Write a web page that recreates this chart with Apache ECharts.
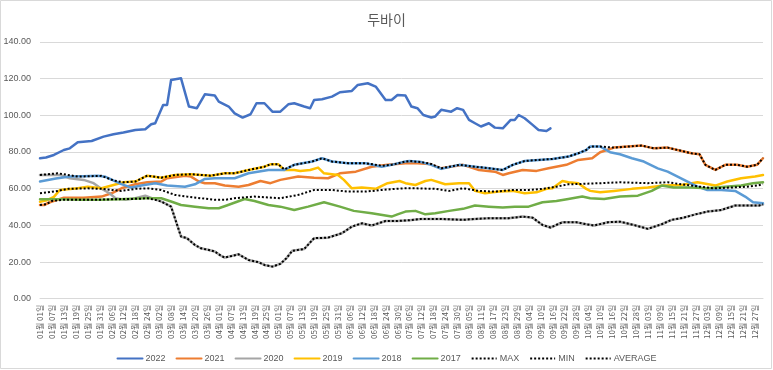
<!DOCTYPE html>
<html>
<head>
<meta charset="utf-8">
<script src="https://cdn.jsdelivr.net/npm/echarts@6/dist/echarts.min.js"></script>
<style>
html,body{margin:0;padding:0;background:#fff;}
#c{width:773px;height:370px;}
</style>
</head>
<body>
<div id="c"></div>
<script>
// Categories: every calendar day (non-leap year), labelled "MM월 DD일"
const monthLengths = [31,28,31,30,31,30,31,31,30,31,30,31];
const categories = [];
monthLengths.forEach((n, m) => {
  for (let d = 1; d <= n; d++) {
    categories.push(String(m + 1).padStart(2, '0') + '월 ' + String(d).padStart(2, '0') + '일');
  }
});
const yTicks = [0, 20, 40, 60, 80, 100, 120, 140];

// Values: day index (0 = 01월 01일) and price
const days2022 = [0,3,7,12,15,19,26,32,37,42,48,53,56,58,62,64,66,71,75,79,83,88,90,95,98,102,106,109,113,117,121,125,128,133,136,138,142,147,151,157,160,165,169,174,177,180,184,187,190,193,197,199,202,207,210,213,216,219,222,226,229,233,237,239,241,244,248,251,255,257];
const val2022 = [76.6,77,78.4,81.1,82,85.3,86,88.4,89.7,90.6,92,92.4,95.1,95.7,105.7,105.7,119.3,120.2,104.8,103.9,111.5,110.8,107.5,104.8,101.1,98.8,100.6,106.6,106.6,102,102,106,106.6,104.8,103.9,108.4,108.8,110.2,112.6,113.3,116.6,117.5,115.7,108.4,108.4,111.1,110.8,104.8,103.9,100.2,98.8,99.4,103,102,103.9,103,97.5,95.7,93.9,95.7,93.3,92.9,97.5,97.5,100.2,98.4,94.8,92,91.5,92.9];

const days2021 = [0,2,5,12,22,31,36,41,48,54,61,64,73,76,80,83,88,93,100,105,111,116,121,130,138,145,151,159,167,175,184,190,196,202,213,221,229,233,236,243,250,256,265,271,275,278,282,289,296,303,309,316,323,328,332,335,340,345,351,356,361,364];
const val2021 = [51.1,51.1,52.6,55.1,55.1,55.7,57.5,60.2,62.4,63.5,63.9,65.7,67,66.6,63.9,63,63,61.7,61.1,62,64.2,63,64.8,66.6,66,65.7,68.4,69.3,72,73,73.9,73.9,73.5,71.1,73,70.2,69.3,67.5,68.4,70.2,69.7,71.1,73,75.7,76.2,76.6,79.9,82.4,83,83.5,82,82.4,80.6,79.3,78.8,73,70.2,73,73,72,73,76.6];

const days2020 = [0,10,15,22,27,30,35,38,43,48,53,56,60,63,66,71,74,78,81,85,88,91,93,100,105,110,113,117,121,124,127,133,138,145,152,157,162,167,174,180,186,192,202,213,219,226,236,243,248,253,257,263,270,275,279,286,292,299,306,313,318,324,330,336,343,350,356,362,364];
const val2020 = [67.5,67.5,65.7,64.8,63,60.6,57.5,54.8,53.9,54.8,56.2,55,53.5,52,50.2,33.9,33,29.3,27.5,26.6,25.7,23.5,22.4,24.2,21.1,19.9,18.4,17.5,19,22,26.1,27.1,33,33.3,35.7,39.3,41.1,39.9,42.4,42.4,42.8,43.5,43.5,43,43.5,43.9,43.9,44.8,44.2,40.2,38.8,41.7,41.7,40.6,39.9,41.7,42,40.2,38.1,40.6,43,44.2,46,47.5,48.4,50.8,50.8,50.8,51.5];

const days2019 = [0,3,7,10,19,24,31,37,42,48,54,61,68,76,86,93,98,105,113,116,120,123,128,131,136,140,143,150,153,157,162,169,175,181,184,189,194,197,204,211,216,219,224,231,238,244,250,255,258,263,266,271,275,277,282,289,298,306,314,323,331,340,346,353,360,364];
const val2019 = [52.9,53.5,55.5,59.3,60.2,61.1,60.2,62,63.5,63.9,67.1,66,67.5,67.9,67.1,68.4,68.4,70.2,72,73.3,73.3,70.2,70.2,69.7,70.2,71.5,68.4,67.5,64.8,60.2,60.6,59.9,63,64.2,63,62,64.2,64.8,62.4,63,63,58.8,57.5,58.4,58.8,57.5,58,59.9,60.2,64.2,63.5,63,59.9,58.8,58,58.8,59.9,60.6,61.7,62,63.5,61.7,63.9,65.7,66.6,67.5];

const days2018 = [0,8,15,22,29,33,41,46,51,58,64,73,78,83,88,98,105,115,123,128,137,142,147,155,164,172,177,184,186,192,197,202,211,219,226,233,238,244,251,258,266,271,275,277,282,287,292,298,304,311,316,321,326,331,336,343,350,355,359,364];
const val2018 = [63.9,65.5,66.6,66.8,67.1,66.5,62.5,60.6,61.7,63,61.7,61.1,62.4,65.3,65.7,65.7,68.4,70.2,70.2,73,74.8,76.6,74.8,73.9,73.9,72,73,74.8,75.1,74.5,73,70.8,73,72,71.1,70.2,73,75.1,75.7,76.2,77.5,79.3,81.1,83,83,79.9,78.8,76.6,74.8,71.1,69.3,66.6,63.9,61.1,59.3,59.3,58.8,55.7,52.6,52];

const days2017 = [0,10,20,30,40,53,61,66,71,78,85,90,94,103,108,115,121,128,135,143,151,158,167,177,180,184,189,194,199,206,213,219,226,233,239,246,253,260,266,273,277,284,292,301,308,313,319,328,336,345,353,359,364];
const val2017 = [54.3,54.3,54,54,54.3,54.8,54.8,53,51.1,50.2,49.3,49.3,50.8,54.4,53.3,51.1,50.2,48.4,50.2,52.6,50.2,47.9,46.6,44.8,46,47.5,47.9,46,46.6,47.9,49,50.8,50.2,49.7,50.2,50.2,52.6,53.3,54.4,55.7,54.8,54.4,55.7,56.2,58.8,61.7,60.6,60.6,60.2,61.1,61.7,63,63.5];

const daysMax = [0,9,19,31,37,42,48,54,61,68,76,86,93,98,105,113,116,120,123,128,137,142,147,155,164,172,177,184,186,192,197,202,211,219,226,233,238,244,251,258,266,271,275,277,282,289,296,303,309,316,323,328,332,335,340,345,351,356,361,364];
const valMax = [67.5,68.4,66.6,67,64.5,63.5,63.9,67.1,66,67.5,67.9,67.1,68.4,68.4,70.2,72,73.3,73.3,70.5,73,74.8,76.6,74.8,73.9,73.9,72.5,73,74.8,75.1,74.5,73.5,71.1,73,72,71.1,70.2,73,75.1,75.7,76.2,77.5,79.3,81.1,83,83,82.4,83,83.5,82,82.4,80.6,79.3,78.8,73,70.2,73,73,72,73,76.6];

const daysMin = [0,3,6,12,20,30,40,50,54,58,61,66,71,74,78,81,85,88,91,93,100,105,110,113,117,121,124,127,133,138,145,152,157,162,167,174,180,186,192,202,213,219,226,236,243,248,253,257,263,270,275,279,286,292,299,306,313,318,324,330,336,343,350,356,362,364];
const valMin = [51.1,51.5,53.3,54,54,54,54.3,54.5,54.8,53.9,53,50.2,33.9,33,29.3,27.5,26.6,25.7,23.5,22.4,24.2,21.1,19.9,18.4,17.5,19,22,26.1,27.1,33,33.3,35.7,39.3,41.1,39.9,42.4,42.4,42.8,43.5,43.5,43,43.5,43.9,43.9,44.8,44.2,40.2,38.8,41.7,41.7,40.6,39.9,41.7,42,40.2,38.1,40.6,43,44.2,46,47.5,48.4,50.8,50.8,50.8,51.5];

const daysAvg = [0,9,14,24,31,41,48,54,61,68,74,81,88,93,98,108,121,130,138,147,155,164,172,179,184,189,199,206,213,221,229,238,246,253,260,266,272,282,292,306,316,323,332,339,347,356,361,364];
const valAvg = [57.5,58.8,59.9,60.2,59.9,58.8,59.9,60.2,59.3,56.6,55.7,54.8,53.9,53.9,54.8,55.7,54.8,56.6,59.3,59.3,58.4,58.4,59.3,59.9,60.2,60.2,59.9,58.8,60.2,58.8,58.4,59.3,59.3,59.9,61.1,62.4,62.6,63,63.5,63,63.5,62.4,61.1,60.2,60.6,61.1,61.7,62.4];

const seriesNames = ['2022','2021','2020','2019','2018','2017','MAX','MIN','AVERAGE'];
const seriesDays = [days2022,days2021,days2020,days2019,days2018,days2017,daysMax,daysMin,daysAvg];
const seriesVals = [val2022,val2021,val2020,val2019,val2018,val2017,valMax,valMin,valAvg];
const colors = ['#4472C4','#ED7D31','#A5A5A5','#FFC000','#5B9BD5','#70AD47','#000000','#000000','#000000'];

const series = seriesNames.map((name, k) => {
  const dotted = k >= 6;
  return {
    name: name,
    type: 'line',
    showSymbol: false,
    symbol: 'none',
    smooth: false,
    animation: false,
    data: seriesDays[k].map((d, i) => [d, seriesVals[k][i]]),
    lineStyle: dotted
      ? { color: colors[k], width: 2, type: [2, 2], cap: 'butt' }
      : { color: colors[k], width: 2.5, cap: 'round', join: 'round' },
    itemStyle: { color: colors[k] }
  };
});

const chart = echarts.init(document.getElementById('c'), null, { renderer: 'canvas' });
chart.setOption({
  backgroundColor: '#ffffff',
  animation: false,
  color: colors,
  title: {
    text: '두바이',
    left: 'center',
    top: 8,
    textStyle: { fontFamily: 'Noto Sans CJK KR', fontSize: 14, fontWeight: 'normal', color: '#595959' }
  },
  legend: {
    top: 349,
    left: 'center',
    itemWidth: 25,
    itemHeight: 8,
    itemGap: 10,
    itemStyle: { opacity: 0 },
    textStyle: { fontFamily: 'Liberation Sans', fontSize: 9, color: '#595959', padding: [0, 0, 0, -2] },
    data: seriesNames
  },
  grid: { left: 40, right: 10, top: 42, bottom: 71.3, containLabel: false },
  xAxis: {
    type: 'category',
    data: categories,
    boundaryGap: false,
    axisLine: { lineStyle: { color: '#D9D9D9' } },
    axisTick: { show: false },
    axisLabel: {
      interval: 5,
      rotate: 90,
      fontSize: 8,
      margin: 6,
      color: '#595959',
      fontFamily: 'Noto Sans CJK KR'
    },
    splitLine: { show: false }
  },
  yAxis: {
    type: 'value',
    min: yTicks[0],
    max: yTicks[yTicks.length - 1],
    interval: yTicks[1] - yTicks[0],
    axisLine: { show: false },
    axisTick: { show: false },
    axisLabel: {
      formatter: v => v.toFixed(2),
      fontSize: 9,
      margin: 9,
      color: '#595959',
      fontFamily: 'Liberation Sans'
    },
    splitLine: { lineStyle: { color: '#D9D9D9', width: 1 } }
  },
  series: series,
  graphic: [{
    type: 'rect',
    shape: { x: 0.5, y: 0.5, width: 771, height: 368 },
    style: { fill: 'none', stroke: '#D9D9D9', lineWidth: 1 },
    silent: true, z: -1
  }]
});
</script>
</body>
</html>
